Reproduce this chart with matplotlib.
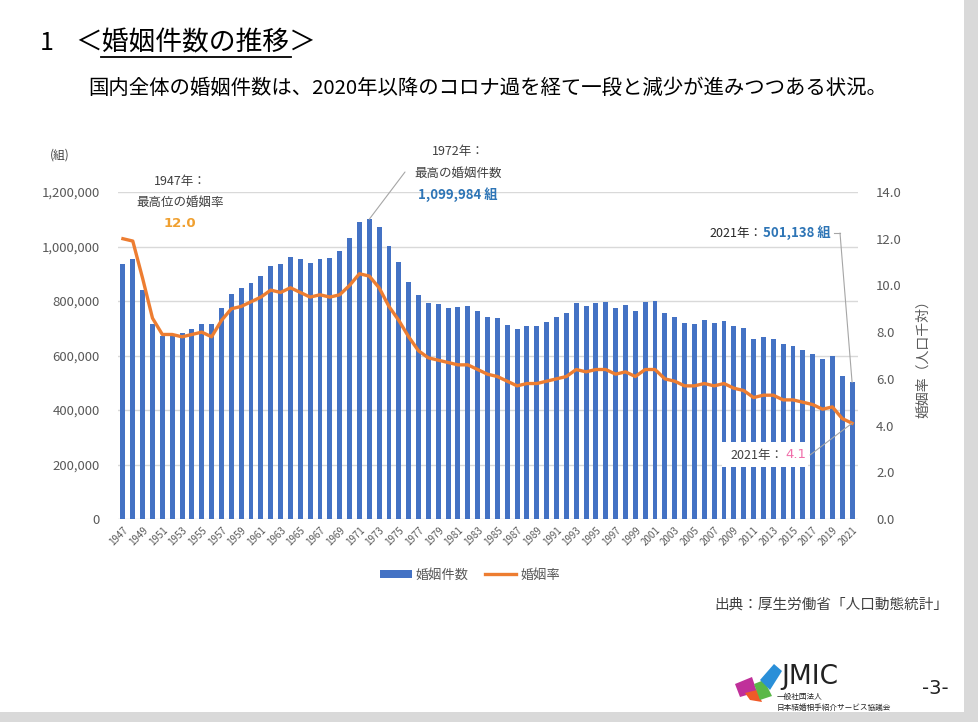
import matplotlib.pyplot as plt
from matplotlib.patches import Rectangle, Polygon
from matplotlib.lines import Line2D
from matplotlib.ticker import FuncFormatter, MultipleLocator

plt.rcParams['font.family'] = ['Noto Sans CJK JP', 'DejaVu Sans']

years = list(range(1947, 2022))
marriages = [
    934170, 953999, 842170, 715081, 671905, 676995, 682077, 697809, 714861, 715934,
    773362, 826902, 847135, 866115, 890158, 928341, 937516, 963130, 954852, 940120,
    953096, 956312, 984142, 1029405, 1091229, 1099984, 1071923, 1000455, 941628, 871543,
    821029, 793257, 788505, 774702, 776531, 781252, 762552, 739991, 735850, 710962,
    696173, 707716, 708316, 722138, 742264, 754441, 792658, 782738, 791888, 795080,
    775651, 784595, 762028, 798138, 799999, 757331, 740191, 720417, 714265, 730971,
    719822, 726106, 707734, 700222, 661895, 668869, 660613, 643749, 635225, 620531,
    606952, 586481, 599007, 525507, 501138,
]
rates = [
    12.0, 11.9, 10.3, 8.6, 7.9, 7.9, 7.8, 7.9, 8.0, 7.8,
    8.5, 9.0, 9.1, 9.3, 9.5, 9.8, 9.7, 9.9, 9.7, 9.5,
    9.6, 9.5, 9.6, 10.0, 10.5, 10.4, 9.9, 9.1, 8.5, 7.8,
    7.2, 6.9, 6.8, 6.7, 6.6, 6.6, 6.4, 6.2, 6.1, 5.9,
    5.7, 5.8, 5.8, 5.9, 6.0, 6.1, 6.4, 6.3, 6.4, 6.4,
    6.2, 6.3, 6.1, 6.4, 6.4, 6.0, 5.9, 5.7, 5.7, 5.8,
    5.7, 5.8, 5.6, 5.5, 5.2, 5.3, 5.3, 5.1, 5.1, 5.0,
    4.9, 4.7, 4.8, 4.3, 4.1,
]

W, H = 979, 722
BLUE = '#4472C4'
ORANGE = '#ED7D31'
GRAY = '#595959'

fig = plt.figure(figsize=(W / 100, H / 100), dpi=100)

def fx(px):
    return px / W

def fy(py):
    return 1 - py / H

# page background / shadow
fig.patch.set_facecolor('#d9d9d9')
fig.add_artist(Rectangle((0, fy(712)), fx(964), 1 - fy(712), transform=fig.transFigure,
                         facecolor='white', edgecolor='none', zorder=0))

# titles
fig.text(fx(40), fy(43), '1', fontsize=18, va='center', ha='left', color='black')
fig.text(fx(75), fy(43), '＜婚姻件数の推移＞', fontsize=19.3, va='center', ha='left', color='black')
fig.add_artist(Line2D([fx(101), fx(291)], [fy(57), fy(57)], transform=fig.transFigure,
                      color='black', lw=1.3))
fig.text(fx(88), fy(88), '国内全体の婚姻件数は、2020年以降のコロナ過を経て一段と減少が進みつつある状況。',
         fontsize=14.7, va='center', ha='left', color='black')

# chart
ax = fig.add_axes([fx(118), fy(519), fx(858) - fx(118), fy(192) - fy(519)])
ax.bar(years, marriages, width=0.5, color=BLUE, zorder=2, label='婚姻件数')
ax.set_xlim(1946.5, 2021.6)
ax.set_ylim(0, 1200000)
ax.yaxis.set_major_locator(MultipleLocator(200000))
ax.yaxis.set_major_formatter(FuncFormatter(lambda v, p: f'{int(v):,}'))
ax.grid(axis='y', color='#d9d9d9', lw=1, zorder=0)
ax.set_axisbelow(True)
for s in ax.spines.values():
    s.set_visible(False)
ax.tick_params(axis='y', length=0, labelsize=9.5, labelcolor=GRAY, pad=13)
ax.set_xticks(years[::2])
ax.set_xticklabels([str(y) for y in years[::2]], rotation=45, ha='right',
                   rotation_mode='anchor', fontsize=7, color=GRAY)
ax.tick_params(axis='x', length=0, pad=4)
ax.set_facecolor('none')

ax2 = ax.twinx()
ax2.plot(years, rates, color=ORANGE, lw=2.4, zorder=3, label='婚姻率')
ax2.set_ylim(0, 14)
ax2.yaxis.set_major_locator(MultipleLocator(2))
ax2.yaxis.set_major_formatter(FuncFormatter(lambda v, p: f'{v:.1f}'))
for s in ax2.spines.values():
    s.set_visible(False)
ax2.tick_params(axis='y', length=0, labelsize=9.5, labelcolor=GRAY, pad=13)
ax2.set_ylabel('婚姻率（人口千対）', fontsize=10, color=GRAY, labelpad=10)

fig.text(fx(60), fy(155), '(組)', fontsize=8.5, color='#404040', ha='center', va='center')

# annotations 1947
fig.text(fx(180), fy(181), '1947年：', fontsize=9, color='#404040', ha='center', va='center')
fig.text(fx(180), fy(202), '最高位の婚姻率', fontsize=9, color='#404040', ha='center', va='center')
fig.text(fx(180), fy(223), f'{rates[0]:.1f}', fontsize=9.5, color='#F0A030',
         fontweight='bold', ha='center', va='center', family='DejaVu Sans')

# annotation 1972
peak_i = marriages.index(max(marriages))
fig.text(fx(458), fy(152), f'{years[peak_i]}年：', fontsize=9, color='#404040', ha='center', va='center')
fig.text(fx(458), fy(173), '最高の婚姻件数', fontsize=9, color='#404040', ha='center', va='center')
fig.text(fx(458), fy(195), f'{marriages[peak_i]:,} 組', fontsize=9.5, color='#2E75B6',
         fontweight='bold', ha='center', va='center')
ax.annotate('', xy=(years[peak_i], marriages[peak_i]), xytext=(fx(405), fy(172)),
            textcoords='figure fraction',
            arrowprops=dict(arrowstyle='-', color='#a6a6a6', lw=0.8, shrinkA=0, shrinkB=0))

# annotation 2021 count
tb = fig.text(fx(831), fy(233), f'{marriages[-1]:,} 組', fontsize=9.5, color='#2E75B6',
              fontweight='bold', ha='right', va='center')
ax.annotate(f'{years[-1]}年：', xy=(0, 0.5), xycoords=tb, xytext=(-1, 0),
            textcoords='offset points', fontsize=9, color='#262626', ha='right', va='center')
ax.annotate('', xy=(years[-1], marriages[-1]), xytext=(fx(840), fy(233)),
            textcoords='figure fraction',
            arrowprops=dict(arrowstyle='-', color='#a6a6a6', lw=0.8, shrinkA=0, shrinkB=0))
fig.add_artist(Line2D([fx(834), fx(840)], [fy(233), fy(233)], transform=fig.transFigure,
                      color='#a6a6a6', lw=0.8))

# annotation 2021 rate (white box over the bars)
ax2.add_patch(Rectangle((fx(722), fy(467)), fx(808) - fx(722), fy(442) - fy(467),
                        transform=fig.transFigure, facecolor='white', edgecolor='none',
                        zorder=4, clip_on=False))
tr = ax2.text(fx(806), fy(455), f'{rates[-1]:.1f}', fontsize=9.5, color='#F06EAA',
              ha='right', va='center', zorder=5, family='DejaVu Sans',
              transform=fig.transFigure)
ax2.annotate(f'{years[-1]}年：', xy=(0, 0.5), xycoords=tr, xytext=(-1, 0),
             textcoords='offset points', fontsize=9, color='#404040',
             ha='right', va='center', zorder=6, annotation_clip=False)
ax2.annotate('', xy=(years[-1], rates[-1]), xytext=(fx(810), fy(455)),
             textcoords='figure fraction',
             arrowprops=dict(arrowstyle='-', color='#a6a6a6', lw=0.8, shrinkA=0, shrinkB=0))

# legend
h1, l1 = ax.get_legend_handles_labels()
h2, l2 = ax2.get_legend_handles_labels()
fig.legend(h1 + h2, l1 + l2, loc='center', bbox_to_anchor=(fx(470), fy(575)), ncol=2,
           frameon=False, fontsize=9.5, labelcolor=GRAY, handlelength=2.4, handleheight=0.5,
           columnspacing=1.2, handletextpad=0.3)

fig.text(fx(948), fy(605), '出典：厚生労働省「人口動態統計」', fontsize=10.5, color='#404040',
         ha='right', va='center')

# logo
logo = [
    ([(735, 684), (752, 677), (757, 692), (740, 697)], '#C0309A'),
    ([(745, 693), (757, 690), (762, 702), (750, 700)], '#F05A28'),
    ([(754, 684), (764, 680), (772, 696), (760, 700)], '#5AB848'),
    ([(760, 680), (774, 664), (782, 671), (770, 690)], '#2A8FD8'),
]
for pts, col in logo:
    fig.add_artist(Polygon([(fx(x), fy(y)) for x, y in pts], closed=True,
                           transform=fig.transFigure, facecolor=col, edgecolor='none'))
fig.text(fx(781), fy(677), 'JMIC', fontsize=19, color='#222222', ha='left', va='center',
         family='DejaVu Sans')
fig.text(fx(777), fy(697), '一般社団法人', fontsize=5.5, color='#222222', ha='left', va='center')
fig.text(fx(777), fy(708), '日本結婚相手紹介サービス協議会', fontsize=5.5, color='#222222',
         ha='left', va='center')
fig.text(fx(935), fy(689), '-3-', fontsize=14, color='#222222', ha='center', va='center',
         family='DejaVu Sans')

fig.savefig('out.png', dpi=100, facecolor=fig.get_facecolor())
